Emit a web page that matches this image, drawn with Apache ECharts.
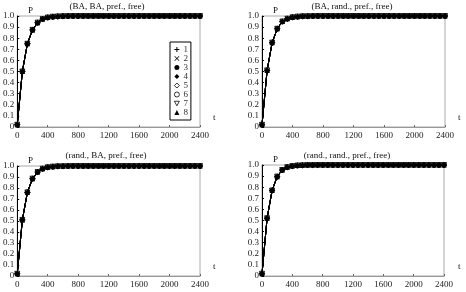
<!DOCTYPE html>
<html>
<head>
<meta charset="utf-8">
<script src="https://cdn.jsdelivr.net/npm/echarts@6/dist/echarts.min.js"></script>
<style>
  html, body { margin: 0; padding: 0; background: #fff; }
  #chart { width: 466px; height: 292px; }
</style>
</head>
<body>
<div id="chart"></div>
<script>
// time steps (shared by all four panels)
const tVals = [0, 67, 133, 200, 267, 333, 400, 467, 533, 600, 667, 733, 800, 867, 933, 1000,
  1067, 1133, 1200, 1267, 1333, 1400, 1467, 1533, 1600, 1667, 1733, 1800, 1867, 1933, 2000,
  2067, 2133, 2200, 2267, 2333, 2400]

// P values (the 8 curves overlap)
const pBaBa = [0.02, 0.50, 0.75, 0.875, 0.94, 0.972, 0.986, 0.993, 0.996, 0.998, 0.999,
  1, 1, 1, 1, 1, 1, 1, 1, 1, 1, 1, 1, 1, 1, 1, 1, 1, 1, 1, 1, 1, 1, 1, 1, 1, 1]
const pBaRand = [0.02, 0.51, 0.76, 0.885, 0.95, 0.975, 0.988, 0.994, 0.997, 0.998, 0.999,
  1, 1, 1, 1, 1, 1, 1, 1, 1, 1, 1, 1, 1, 1, 1, 1, 1, 1, 1, 1, 1, 1, 1, 1, 1, 1]
const pRandBa = [0.02, 0.51, 0.76, 0.885, 0.945, 0.975, 0.988, 0.994, 0.997, 0.998, 0.999,
  1, 1, 1, 1, 1, 1, 1, 1, 1, 1, 1, 1, 1, 1, 1, 1, 1, 1, 1, 1, 1, 1, 1, 1, 1, 1]
const pRandRand = [0.02, 0.52, 0.77, 0.895, 0.955, 0.98, 0.99, 0.995, 0.997, 0.999, 0.999,
  1, 1, 1, 1, 1, 1, 1, 1, 1, 1, 1, 1, 1, 1, 1, 1, 1, 1, 1, 1, 1, 1, 1, 1, 1, 1]

const panelTitles = ['(BA, BA, pref., free)', '(BA, rand., pref., free)',
  '(rand., BA, pref., free)', '(rand., rand., pref., free)']
const seriesNames = ['1', '2', '3', '4', '5', '6', '7', '8']

const font = 'Liberation Serif'

// marker for each of the 8 curves
const markers = [
  { symbol: 'path://M4,0h2v4h4v2h-4v4h-2v-4h-4v-2h4z', size: 5 },
  { symbol: 'path://M1,0L5,4L9,0L10,1L6,5L10,9L9,10L5,6L1,10L0,9L4,5L0,1z', size: 5 },
  { symbol: 'circle', size: 3 },
  { symbol: 'diamond', size: 6 },
  { symbol: 'diamond', size: 5, empty: true },
  { symbol: 'circle', size: 5, empty: true },
  { symbol: 'path://M0,0L10,0L5,9Z', size: 5, empty: true },
  { symbol: 'triangle', size: 5 }
]

const panels = [
  { data: pBaBa, left: 17, top: 16, width: 183, height: 111, titleX: 107, titleY: 2 },
  { data: pBaRand, left: 262, top: 16, width: 183, height: 111, titleX: 352, titleY: 2 },
  { data: pRandBa, left: 17, top: 166, width: 183, height: 110, titleX: 106, titleY: 151 },
  { data: pRandRand, left: 262, top: 165, width: 182, height: 111, titleX: 347, titleY: 151 }
]

const emptyStyle = { color: '#fff', borderColor: '#000', borderWidth: 0.8 }
const fullStyle = { color: '#000', borderWidth: 0 }

const grids = []
const xAxes = []
const yAxes = []
const series = []
const titles = []
const graphics = []

panels.forEach((p, i) => {
  grids.push({
    left: p.left, top: p.top, width: p.width, height: p.height,
    show: true, borderColor: '#aaa', borderWidth: 1
  })
  xAxes.push({
    gridIndex: i, type: 'value', min: 0, max: 2400, interval: 400,
    axisLine: { lineStyle: { color: '#999', width: 1 } },
    axisTick: { inside: true, length: 2, lineStyle: { color: '#666' } },
    splitLine: { show: false },
    axisLabel: { fontFamily: font, fontSize: 9, color: '#222', margin: 4, formatter: v => String(v) }
  })
  yAxes.push({
    gridIndex: i, type: 'value', min: 0, max: 1, interval: 0.1,
    axisLine: { show: true, lineStyle: { color: '#000', width: 1 } },
    axisTick: { show: true, inside: true, length: 2, lineStyle: { color: '#000' } },
    splitLine: { show: false },
    axisLabel: {
      fontFamily: font, fontSize: 9, color: '#222', margin: 3,
      formatter: v => (v === 0 ? '0' : v.toFixed(1))
    }
  })
  titles.push({
    text: panelTitles[i], left: p.titleX, top: p.titleY, textAlign: 'center', padding: 0,
    textStyle: { fontFamily: font, fontSize: 9, fontWeight: 'normal', color: '#111' }
  })
  // axis letters
  graphics.push({
    type: 'text', left: p.left + 11, top: p.top - 10,
    style: { text: 'P', font: '9px "Liberation Serif"', fill: '#111' }
  })
  graphics.push({
    type: 'text', left: p.left + 196, top: p.top + p.height - 14,
    style: { text: 't', font: '9px "Liberation Serif"', fill: '#111' }
  })

  seriesNames.forEach((name, k) => {
    const m = markers[k]
    series.push({
      name: name, type: 'line', xAxisIndex: i, yAxisIndex: i,
      data: tVals.map((t, j) => [t, p.data[j]]),
      symbol: m.symbol, symbolSize: m.size, showAllSymbol: true,
      // hollow markers sit underneath so the stack reads as a dark blob
      z: m.empty ? 1 : 3,
      lineStyle: { color: '#000', width: 1 },
      itemStyle: m.empty ? emptyStyle : fullStyle,
      clip: false,
      animation: false
    })
  })
})

const chart = echarts.init(document.getElementById('chart'))
chart.setOption({
  backgroundColor: '#fff',
  animation: false,
  title: titles,
  grid: grids,
  xAxis: xAxes,
  yAxis: yAxes,
  legend: {
    orient: 'vertical', left: 170, top: 42,
    itemWidth: 5, itemHeight: 5, itemGap: 0,
    padding: [3, 3, 3, 4],
    borderColor: '#000', borderWidth: 1, backgroundColor: '#fff',
    textStyle: { fontFamily: font, fontSize: 9, lineHeight: 9, color: '#333', padding: [0, 0, 0, -1] },
    data: seriesNames.map((n, k) => ({
      name: n, icon: markers[k].symbol,
      itemStyle: markers[k].empty ? emptyStyle : fullStyle
    }))
  },
  graphic: graphics,
  series: series
})
</script>
</body>
</html>
